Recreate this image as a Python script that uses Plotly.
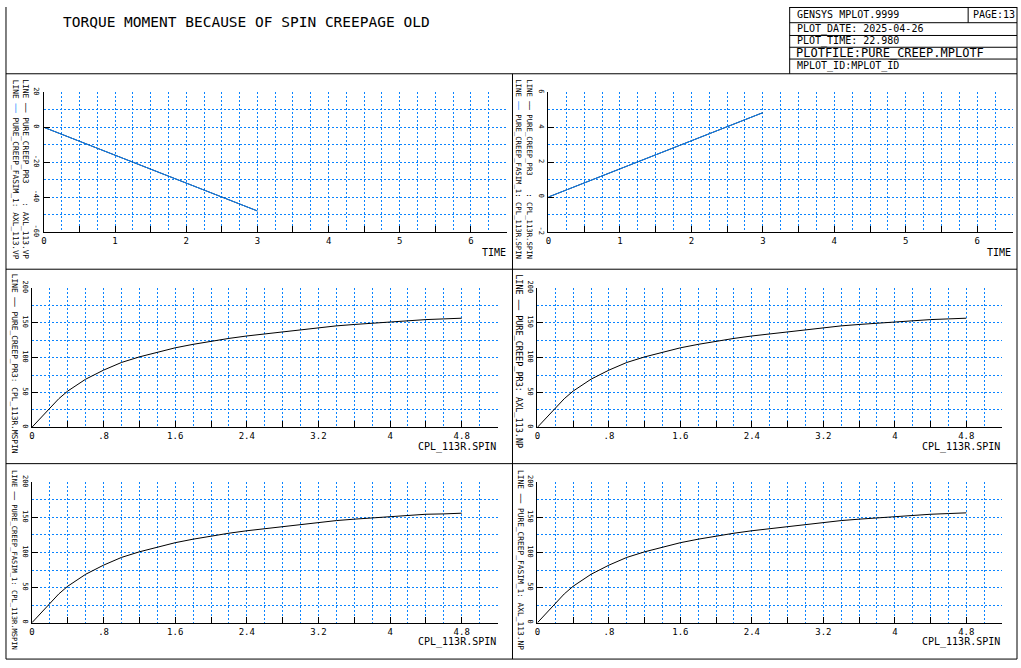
import plotly.graph_objects as go

W, H = 1021, 668
FONT = "DejaVu Sans Mono"
BLUE = "#0a84ff"

# top row: time histories
time_s = [0, 0.5, 1, 1.5, 2, 2.5, 3]
vp_pr3 = [0, -8, -16, -24, -32, -40, -48]
vp_fasim = [0, -8, -16, -24, -32, -40, -48]
spin_pr3 = [0, 0.81, 1.62, 2.43, 3.24, 4.04, 4.84]
spin_fasim = [0, 0.81, 1.62, 2.43, 3.24, 4.04, 4.84]

# middle + bottom rows: torque vs spin creepage
cpl_spin = [0, 0.1, 0.2, 0.3, 0.4, 0.5, 0.6, 0.8, 1.0, 1.2, 1.4, 1.6, 1.8, 2.0,
            2.2, 2.4, 2.6, 2.8, 3.0, 3.2, 3.4, 3.6, 3.8, 4.0, 4.2, 4.4, 4.6, 4.8]
mspin_pr3 = [0, 14, 28, 41, 52, 61, 69, 82, 93, 101, 108, 114, 119, 123.5,
             127.5, 131, 134, 137, 140, 143, 145.5, 147.5, 149.5, 151.5, 153, 154.5, 155.5, 156.5]
np_pr3 = [0, 14, 28, 41, 52, 61, 69, 82, 93, 101, 108, 114, 119, 123.5,
          127.5, 131, 134, 137, 140, 143, 145.5, 147.5, 149.5, 151.5, 153, 154.5, 155.5, 156.5]
mspin_fasim = [0, 14, 28, 41, 52, 61, 69, 82, 93, 101, 108, 114, 119, 123.5,
               127.5, 131, 134, 137, 140, 143, 145.5, 147.5, 149.5, 151.5, 153, 154.5, 155, 156]
np_fasim = [0, 14, 28, 41, 52, 61, 69, 82, 93, 101, 108, 114, 119, 123.5,
            127.5, 131, 134, 137, 140, 143, 145.5, 147.5, 149.5, 151.5, 153, 154.5, 155.5, 156.5]

# tick labels
time_tickvals = [0, 0.5, 1, 1.5, 2, 2.5, 3, 3.5, 4, 4.5, 5, 5.5, 6]
time_ticktext = ["0", "", "1", "", "2", "", "3", "", "4", "", "5", "", "6"]
spin_tickvals = [0, 0.4, 0.8, 1.2, 1.6, 2.0, 2.4, 2.8, 3.2, 3.6, 4.0, 4.4, 4.8, 5.2]
spin_ticktext = ["0", "", ".8", "", "1.6", "", "2.4", "", "3.2", "", "4", "", "4.8", ""]
vp_tickvals = [-60, -40, -20, 0, 20]
vp_ticktext = ["-60", "-40", "-20", "0", "20"]
sp_tickvals = [-2, 0, 2, 4, 6]
sp_ticktext = ["-2", "0", "2", "4", "6"]
torque_tickvals = [0, 50, 100, 150, 200]
torque_ticktext = ["0", "50", "100", "150", "200"]


def fx(px):
    return px / W


def fy(py):
    return 1 - py / H


# panel boxes in pixels: left, right, top, bottom
panels = [
    dict(box=(41, 505, 87, 229), xr=[0, 6.5], yr=[-60, 20], xt=(time_tickvals, time_ticktext), xg=0.25,
         yt=(vp_tickvals, vp_ticktext), yg=10),
    dict(box=(547, 1013, 87, 229), xr=[0, 6.5], yr=[-2, 6], xt=(time_tickvals, time_ticktext), xg=0.25,
         yt=(sp_tickvals, sp_ticktext), yg=1),
    dict(box=(29, 496, 286, 428), xr=[0, 5.2], yr=[0, 200], xt=(spin_tickvals, spin_ticktext), xg=0.2,
         yt=(torque_tickvals, torque_ticktext), yg=25),
    dict(box=(536, 1002, 286, 428), xr=[0, 5.2], yr=[0, 200], xt=(spin_tickvals, spin_ticktext), xg=0.2,
         yt=(torque_tickvals, torque_ticktext), yg=25),
    dict(box=(29, 496, 484, 627), xr=[0, 5.2], yr=[0, 200], xt=(spin_tickvals, spin_ticktext), xg=0.2,
         yt=(torque_tickvals, torque_ticktext), yg=25),
    dict(box=(536, 1002, 484, 627), xr=[0, 5.2], yr=[0, 200], xt=(spin_tickvals, spin_ticktext), xg=0.2,
         yt=(torque_tickvals, torque_ticktext), yg=25),
]

DOT = "2px,2px"
fig = go.Figure()
layout = {}
for i, p in enumerate(panels):
    n = "" if i == 0 else str(i + 1)
    l, r, t, b = p["box"]
    common = dict(showline=True, linecolor="black", linewidth=1, mirror=False,
                  showgrid=True, gridcolor=BLUE, griddash=DOT, gridwidth=1,
                  zeroline=False, ticks="inside", ticklen=6, tickcolor="black", tickwidth=1,
                  fixedrange=True, tickfont=dict(family=FONT, size=9, color="black"))
    layout["xaxis" + n] = dict(common, domain=[fx(l), fx(r)], range=p["xr"], anchor="y" + n,
                               tickmode="array", tickvals=p["xt"][0], ticktext=p["xt"][1],
                               minor=dict(dtick=p["xg"], tick0=0, showgrid=True, gridcolor=BLUE,
                                          griddash=DOT, gridwidth=1, ticks=""))
    layout["yaxis" + n] = dict(common, domain=[fy(b), fy(t)], range=p["yr"], anchor="x" + n,
                               tickmode="array", tickvals=p["yt"][0], ticktext=p["yt"][1],
                               tickangle=90, tickfont=dict(family=FONT, size=7, color="black"),
                               minor=dict(dtick=p["yg"], tick0=0, showgrid=True, gridcolor=BLUE,
                                          griddash=DOT, gridwidth=1, ticks=""))

line_k = dict(color="black", width=1)
line_b = dict(color=BLUE, width=1)
fig.add_trace(go.Scatter(x=time_s, y=vp_pr3, mode="lines", line=line_k, xaxis="x", yaxis="y"))
fig.add_trace(go.Scatter(x=time_s, y=vp_fasim, mode="lines", line=line_b, xaxis="x", yaxis="y"))
fig.add_trace(go.Scatter(x=time_s, y=spin_pr3, mode="lines", line=line_k, xaxis="x2", yaxis="y2"))
fig.add_trace(go.Scatter(x=time_s, y=spin_fasim, mode="lines", line=line_b, xaxis="x2", yaxis="y2"))
fig.add_trace(go.Scatter(x=cpl_spin, y=mspin_pr3, mode="lines", line=line_k, xaxis="x3", yaxis="y3"))
fig.add_trace(go.Scatter(x=cpl_spin, y=np_pr3, mode="lines", line=line_k, xaxis="x4", yaxis="y4"))
fig.add_trace(go.Scatter(x=cpl_spin, y=mspin_fasim, mode="lines", line=line_k, xaxis="x5", yaxis="y5"))
fig.add_trace(go.Scatter(x=cpl_spin, y=np_fasim, mode="lines", line=line_k, xaxis="x6", yaxis="y6"))

# frame lines (pixels)
frame = [
    (3, 0, 3, 664), (1017, 0, 1017, 664), (3, 664, 1017, 664),
    (3, 68, 1017, 68), (3, 267, 1017, 267), (3, 465, 1017, 465), (511, 68, 511, 664),
    (789, 0, 789, 68), (789, 16, 1017, 16), (789, 29, 1017, 29), (789, 41, 1017, 41),
    (789, 53, 1017, 53), (968, 0, 968, 16), (789, 0.5, 1017, 0.5),
]
shapes = [dict(type="line", xref="paper", yref="paper", x0=fx(a), y0=fy(b), x1=fx(c), y1=fy(d),
               line=dict(color="black", width=1)) for a, b, c, d in frame]

ann = []


def text(px, py, s, size=10, xanchor="left", yanchor="middle", angle=0):
    ann.append(dict(x=fx(px), y=fy(py), xref="paper", yref="paper", text=s, showarrow=False,
                    xanchor=xanchor, yanchor=yanchor, textangle=angle,
                    font=dict(family=FONT, size=size, color="black")))


text(58, 15, "TORQUE MOMENT BECAUSE OF SPIN CREEPAGE OLD", size=14.5)
text(794, 8, "GENSYS MPLOT.9999", size=10)
text(971, 8, "PAGE:13", size=10)
text(794, 22, "PLOT_DATE: 2025-04-26", size=10)
text(794, 35, "PLOT_TIME: 22.980", size=10)
text(793, 47, "PLOTFILE:PURE_CREEP.MPLOTF", size=12)
text(794, 60, "MPLOT_ID:MPLOT_ID", size=10)

text(506, 250, "TIME", size=10, xanchor="right")
text(1013, 250, "TIME", size=10, xanchor="right")
text(496, 448, "CPL_113R.SPIN", size=10, xanchor="right")
text(1002, 448, "CPL_113R.SPIN", size=10, xanchor="right")
text(496, 647, "CPL_113R.SPIN", size=10, xanchor="right")
text(1002, 647, "CPL_113R.SPIN", size=10, xanchor="right")

nb = "\u00a0"
dash_k = "<span style='color:black'>──</span>"
dash_b = "<span style='color:%s'>──</span>" % BLUE
legends = [
    (22.5, 72, "LINE " + dash_k + " PURE_CREEP_PR3" + nb * 4 + ": AXL_113.VP"),
    (12, 72, "LINE " + dash_b + " PURE_CREEP_FASIM_1: AXL_113.VP"),
    (528, 72, "LINE " + dash_k + " PURE_CREEP_PR3" + nb * 4 + ": CPL_113R.SPIN"),
    (517, 72, "LINE " + dash_b + " PURE_CREEP_FASIM_1: CPL_113R.SPIN"),
    (11.5, 270, "LINE " + dash_k + " PURE_CREEP_PR3: CPL_113R.MSPIN"),
    (517.5, 270, "LINE " + dash_k + " PURE_CREEP_PR3: AXL_113.NP"),
    (11.5, 470, "LINE " + dash_k + " PURE_CREEP_FASIM_1: CPL_113R.MSPIN"),
    (519, 470, "LINE " + dash_k + " PURE_CREEP_FASIM_1: AXL_113.NP"),
]
for px, py, s in legends:
    # fit each label into ~180 px of height
    nchar = len(s.replace(dash_k, "--").replace(dash_b, "--"))
    text(px, py, s, size=min(8.5, 180 / (nchar * 0.602)), xanchor="center", yanchor="top", angle=90)

layout.update(width=W, height=H, margin=dict(l=0, r=0, t=0, b=0), showlegend=False,
              paper_bgcolor="white", plot_bgcolor="white", shapes=shapes, annotations=ann)
fig.update_layout(**layout)
fig.write_html("out.html", config={"displayModeBar": False},
               post_script="document.body.style.margin='0';")
